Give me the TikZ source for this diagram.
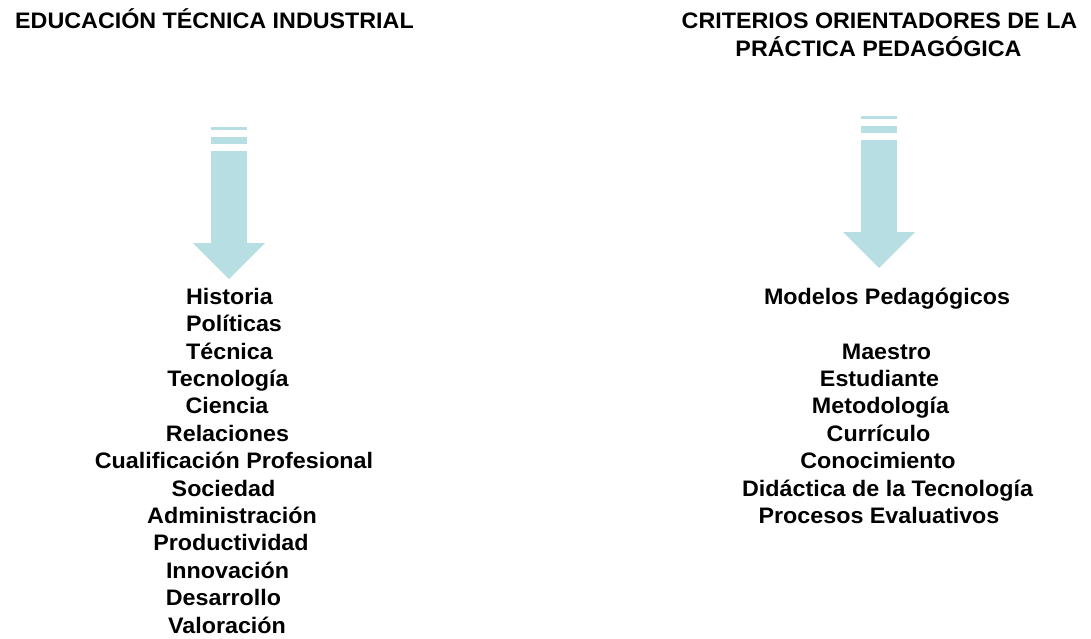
\documentclass[tikz,border=0pt]{standalone}
\usepackage{fontspec}
\setmainfont{Liberation Sans}
\usepackage{graphicx}
\definecolor{flecha}{RGB}{183,222,226}
\newcommand{\anchotxt}[1]{\scalebox{1.04}[1]{#1}}

\begin{document}
\begin{tikzpicture}[x=1pt,y=-1pt,
  texto/.style={anchor=base,inner sep=0pt,font=\fontsize{22.4}{26}\selectfont\bfseries},
  relleno/.style={fill=flecha,draw=none}]
\useasboundingbox (0,0) rectangle (1091,638);
% titulos
\node[texto] (tizq) at (214.5,28) {\anchotxt{EDUCACIÓN TÉCNICA INDUSTRIAL}};
\node[texto] (tder1) at (879.5,28) {\anchotxt{CRITERIOS ORIENTADORES DE LA}};
\node[texto] (tder2) at (878.5,56) {\anchotxt{PRÁCTICA PEDAGÓGICA}};
% flechas
\foreach \cx/\cy in {229/127,879/116}{
  \fill[relleno] (\cx-18,\cy) rectangle (\cx+18,\cy+2.6);
  \fill[relleno] (\cx-18,\cy+10) rectangle (\cx+18,\cy+17);
  \fill[relleno] (\cx-18,\cy+24) rectangle (\cx+18,\cy+116.5);
  \fill[relleno] (\cx-36,\cy+116) -- (\cx+36,\cy+116) -- (\cx,\cy+152) -- cycle;
}
% columna izquierda
\foreach \txt/\cx [count=\i] in {Historia/229.5,Políticas/234,Técnica/229.5,Tecnología/228,
  Ciencia/227,Relaciones/227.5,Cualificación Profesional/234,Sociedad/223.5,
  Administración/232,Productividad/231,Innovación/227.5,Desarrollo/223.5,Valoración/227}
  \node[texto] (izq\i) at (\cx,{304.3+(\i-1)*27.4}) {\anchotxt{\txt}};
% columna derecha
\node[texto] (modelos) at (887,304.3) {\anchotxt{Modelos Pedagógicos}};
\foreach \txt/\cx [count=\i from 3] in {Maestro/886.5,Estudiante/879.5,Metodología/880.5,
  Currículo/878.5,Conocimiento/878,Didáctica de la Tecnología/887.5,Procesos Evaluativos/879}
  \node[texto] (der\i) at (\cx,{304.3+(\i-1)*27.4}) {\anchotxt{\txt}};
\end{tikzpicture}
\end{document}
